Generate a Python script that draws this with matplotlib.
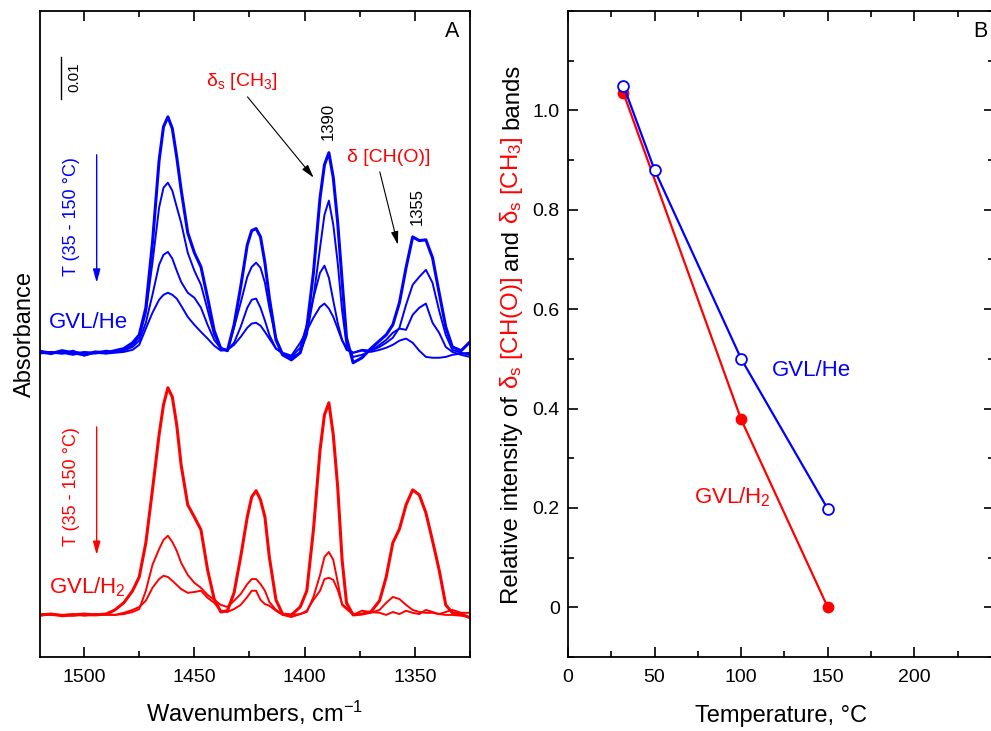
# FTIR spectra of GVL (A) and relative band intensity vs temperature (B)
import matplotlib
matplotlib.use('Agg')
import matplotlib.pyplot as plt
from matplotlib.ticker import MultipleLocator

plt.rcParams['font.family'] = ['Liberation Sans', 'DejaVu Sans']
plt.rcParams['mathtext.fontset'] = 'custom'
plt.rcParams['mathtext.rm'] = 'Liberation Sans'
plt.rcParams['mathtext.it'] = 'Liberation Sans:italic'
plt.rcParams['mathtext.default'] = 'regular'

# Wavenumber grid, cm-1
wn = [1520, 1515, 1510, 1505, 1500, 1495, 1490, 1486, 1482, 1478,
      1475, 1472, 1469, 1466, 1464, 1462, 1460, 1458, 1456, 1453,
      1450, 1447, 1444, 1441, 1438, 1435, 1432, 1429, 1426, 1424,
      1422, 1420, 1418, 1416, 1413, 1410, 1406, 1402, 1399, 1396,
      1393, 1391, 1389, 1387, 1385, 1383, 1381, 1378, 1374, 1370,
      1366, 1363, 1360, 1357, 1354, 1351, 1348, 1345, 1342, 1339,
      1336, 1333, 1329, 1325]

# Absorbance x 1e-3, GVL/He, temperature rising 35 -> 150 C
he_1 = [0.2, -0.2, 0.5, 0, -0.5, 0.2, 0, 0.5, 1.0, 2.4,
        4.3, 10.8, 26.4, 46.1, 54.2, 56.6, 53.8, 47.0, 39.1, 28.8,
        24.0, 20.6, 13.2, 5.3, 1.0, 0.5, 6.7, 15.8, 25.9, 29.3,
        29.8, 27.8, 21.6, 13.2, 3.1, -0.5, -1.7, 0, 6.0, 19.2,
        37.2, 45.1, 48.0, 42.0, 31.2, 17.3, 3.6, -2.4, -1.2, 1.0,
        2.9, 4.3, 6.7, 12.0, 20.4, 27.8, 26.9, 27.1, 22.8, 14.4,
        6.2, 1.4, 0.5, 2.6]
he_2 = [0, 0.2, -0.2, 0.2, 0, -0.2, 0.2, 0.2, 0.7, 1.7,
        3.8, 9.6, 21.6, 34.8, 39.6, 40.8, 38.9, 35.0, 31.2, 24.0,
        19.7, 16.3, 10.3, 4.3, 1.2, 0.5, 6.0, 12.0, 18.2, 20.6,
        21.6, 20.4, 16.8, 10.8, 3.6, -0.2, -1.2, 0, 4.3, 13.2,
        25.2, 33.1, 36.5, 30.7, 21.6, 10.1, 1.9, -1.0, -0.5, 0.5,
        1.4, 2.4, 3.6, 6.0, 11.5, 16.3, 18.2, 19.9, 16.8, 10.1,
        4.3, 0.7, 0, -0.5]
he_3 = [0.5, 0, -0.2, 0.5, -0.7, 0, 0.5, 0.2, 0.5, 1.4,
        2.9, 7.2, 13.9, 21.1, 23.5, 24.2, 22.6, 19.7, 17.0, 14.4,
        13.2, 10.8, 6.7, 3.1, 1.0, 0.7, 2.4, 6.2, 10.8, 12.7,
        13.0, 10.8, 7.7, 4.3, 1.0, -0.2, -1.0, 1.2, 6.7, 13.2,
        19.2, 20.9, 18.0, 12.5, 7.2, 3.1, 0.7, 0, 0.7, 0.5,
        1.9, 3.1, 4.8, 5.8, 5.5, 9.1, 10.8, 11.8, 7.2, 4.8,
        1.4, 0.2, -0.5, -1.0]
he_4 = [-0.2, 0.2, 0, -0.5, 0.2, 0, -0.2, 0, 0.2, 0.7,
        1.9, 5.8, 9.6, 12.7, 13.9, 14.4, 13.9, 13.0, 11.3, 8.6,
        6.7, 5.0, 3.4, 1.7, 0.5, 0.7, 1.9, 3.8, 6.0, 7.0,
        7.2, 6.5, 5.0, 3.4, 1.0, 0, -0.7, 2.4, 5.3, 8.4,
        11.0, 11.8, 10.6, 8.6, 5.8, 2.9, 1.2, 0, 0.5, 0.2,
        0.7, 1.2, 1.9, 2.9, 3.4, 2.4, 0.5, -1.0, -1.2, -1.2,
        -1.0, -0.5, -0.2, 0]

# Absorbance x 1e-3, GVL/H2, temperature rising 35 -> 150 C
h2_1 = [0, 0.2, -0.2, 0, 0.2, 0, 0.2, 1.2, 2.9, 5.8,
        9.1, 17.3, 30.0, 43.2, 50.4, 54.5, 52.3, 45.6, 36.0, 26.4,
        23.5, 20.4, 10.8, 3.8, 0.7, 1.0, 5.3, 13.9, 23.5, 28.3,
        29.8, 27.6, 23.5, 13.9, 3.6, 0.2, 0, 1.9, 5.8, 20.4,
        39.6, 48.0, 50.9, 43.2, 30.7, 13.2, 2.9, 0, 0.2, 0.7,
        3.4, 9.1, 17.3, 20.6, 26.4, 30.0, 28.8, 24.5, 17.8, 10.8,
        2.4, 0.5, 0.2, -0.7]
h2_2 = [0.2, 0, 0, -0.2, 0, 0.2, 0, 0, 0.2, 0.7,
        1.4, 5.8, 12.0, 15.8, 18.0, 19.0, 17.5, 15.4, 12.5, 9.6,
        7.7, 6.5, 4.8, 3.6, 2.4, 1.9, 3.4, 5.0, 7.4, 8.6,
        8.6, 7.4, 5.8, 3.1, 1.2, 0.2, 0, 0.2, 0.7, 4.3,
        9.6, 13.9, 15.1, 13.2, 7.9, 2.4, 1.4, 0.2, 0.2, 0.5,
        1.2, 2.9, 4.3, 3.8, 2.4, 1.2, 0.7, 0.5, 0.5, 0.2,
        0, 0, -0.2, -0.5]
h2_3 = [-0.2, 0.2, 0, 0.2, -0.2, 0, 0.2, 0, 0.5, 1.2,
        1.9, 3.4, 6.5, 8.6, 9.4, 9.1, 8.2, 7.2, 6.2, 5.3,
        5.5, 5.8, 4.1, 2.9, 1.0, 0.7, 1.4, 2.4, 4.3, 5.8,
        5.8, 3.6, 2.6, 2.2, 1.0, 0, -0.5, 0.2, 1.0, 3.6,
        5.8, 8.6, 8.9, 8.4, 6.0, 2.6, 1.7, 0, 1.0, 0.7,
        0.5, 0, 0.7, 0.2, 1.0, 0.5, 0.2, 1.2, 0.7, 0.2,
        0.7, 1.2, 0.5, 0.5]

# Panel B: relative intensity of the bands
temp_h2 = [32, 100, 150]
rel_h2 = [1.035, 0.378, 0.0]
temp_he = [32, 50, 100, 150]
rel_he = [1.05, 0.88, 0.50, 0.198]

BLUE = '#0000ff'
RED = '#ff0000'
he_offset = 73.0
h2_offset = 10.1

fig = plt.figure(figsize=(9.91, 7.31), dpi=100)
W, H = 991, 731
axA = fig.add_axes([40 / W, 74 / H, 430 / W, 646 / H])
axB = fig.add_axes([568 / W, 74 / H, 426 / W, 646 / H])

# ---- panel A ----
for y, lw in [(he_4, 1.4), (he_3, 1.4), (he_2, 1.4), (he_1, 2.2)]:
    axA.plot(wn, [v + he_offset for v in y], color=BLUE, lw=lw)
for y, lw in [(h2_3, 1.4), (h2_2, 1.4), (h2_1, 2.2)]:
    axA.plot(wn, [v + h2_offset for v in y], color=RED, lw=lw)

axA.set_xlim(1520, 1325)
axA.set_ylim(0, 155)
axA.xaxis.set_major_locator(MultipleLocator(50))
axA.xaxis.set_minor_locator(MultipleLocator(25))
axA.set_yticks([])
axA.tick_params(axis='x', which='both', direction='in', top=True, labelsize=14,
                pad=9, width=1.2)
axA.tick_params(axis='x', which='major', length=7)
axA.tick_params(axis='x', which='minor', length=4)
axA.set_xlabel('Wavenumbers, cm$^{-1}$', fontsize=17, va='baseline')
axA.xaxis.set_label_coords(0.5, -0.1006)
axA.set_ylabel('Absorbance', fontsize=17)
axA.yaxis.set_label_coords(-0.01, 0.5)

# scale bar 0.01 absorbance
axA.plot([1510.5, 1510.5], [134, 144], color='k', lw=1.0)
axA.text(1504.5, 139, '0.01', rotation=90, fontsize=11, ha='center', va='center')

arrow = dict(arrowstyle='-|>,head_length=0.8,head_width=0.22', color='k', lw=0.8,
             shrinkA=0, shrinkB=0)
axA.annotate('', xy=(1395.9, 115.0), xytext=(1425.9, 134.4), arrowprops=arrow)
axA.annotate('', xy=(1357.7, 98.9), xytext=(1365.9, 116.4), arrowprops=arrow)
axA.text(1428.6, 138, r'δ$_s$ [CH$_3$]', color=RED, fontsize=14, ha='center', va='center')
axA.text(1361.8, 119.8, 'δ [CH(O)]', color=RED, fontsize=14, ha='center', va='center')
axA.text(1389.1, 128.6, '1390', rotation=90, fontsize=12, ha='center', va='center')
axA.text(1349.1, 108.2, '1355', rotation=90, fontsize=12, ha='center', va='center')

for col, ytxt, y0, y1 in [(BLUE, 105.6, 120.5, 89.8), (RED, 40.8, 55.2, 24.5)]:
    axA.text(1505.5, ytxt, 'T (35 - 150 °C)', rotation=90, color=col, fontsize=13,
             ha='center', va='center')
    axA.annotate('', xy=(1494.3, y1), xytext=(1494.3, y0),
                 arrowprops=dict(arrowstyle='-|>,head_length=0.8,head_width=0.22',
                                 color=col, lw=1.0, shrinkA=0, shrinkB=0))
axA.text(1516, 80.2, 'GVL/He', color=BLUE, fontsize=16, ha='left', va='center')
axA.text(1516, 16.8, 'GVL/H$_2$', color=RED, fontsize=16, ha='left', va='center')
axA.text(0.958, 0.969, 'A', transform=axA.transAxes, fontsize=15.5, ha='center', va='center')

# ---- panel B ----
axB.plot(temp_h2, rel_h2, color=RED, lw=1.6, marker='o', ms=7.5, mfc=RED, mec=RED)
axB.plot(temp_he, rel_he, color=BLUE, lw=1.6, marker='o', ms=7.8, mfc='white',
         mec=BLUE, mew=1.3)
axB.set_xlim(0, 246)
axB.set_ylim(-0.1, 1.2)
axB.xaxis.set_major_locator(MultipleLocator(50))
axB.xaxis.set_minor_locator(MultipleLocator(25))
axB.set_yticks([0, 0.2, 0.4, 0.6, 0.8, 1.0])
axB.set_yticklabels(['0', '0.2', '0.4', '0.6', '0.8', '1.0'])
axB.yaxis.set_minor_locator(MultipleLocator(0.1))
axB.tick_params(which='both', direction='in', top=True, right=True, labelsize=14,
                width=1.2)
axB.tick_params(axis='x', which='both', pad=9)
axB.tick_params(axis='y', which='both', pad=6)
axB.tick_params(which='major', length=7)
axB.tick_params(which='minor', length=4)
axB.set_xlabel('Temperature, °C', fontsize=17, va='baseline')
axB.xaxis.set_label_coords(0.5, -0.1006)
axB.text(140.8, 0.477, 'GVL/He', color=BLUE, fontsize=16, ha='center', va='center')
axB.text(95, 0.221, 'GVL/H$_2$', color=RED, fontsize=16, ha='center', va='center')
axB.text(0.967, 0.969, 'B', transform=axB.transAxes, fontsize=15.5, ha='center', va='center')

for ax in (axA, axB):
    for sp in ax.spines.values():
        sp.set_linewidth(1.3)

# multi-coloured y label of panel B, stacked bottom to top
pieces = [('Relative intensity of', 'k'), (r'δ$_s$ [CH(O)]', RED), ('and', 'k'),
          (r'δ$_s$ [CH$_3$]', RED), ('bands', 'k')]
renderer = fig.canvas.get_renderer()
fs = 17.3
texts = []
for s, c in pieces:
    t = fig.text(0, 0, s, color=c, fontsize=fs, rotation=90, rotation_mode='anchor',
                 ha='left', va='baseline')
    texts.append(t)
gap = 0.28 * fs * 100 / 72
lengths = [t.get_window_extent(renderer).height for t in texts]
total = sum(lengths) + gap * (len(texts) - 1)
ypos = (731 - 334) - total / 2
for t, L in zip(texts, lengths):
    t.set_position((518 / W, ypos / H))
    ypos += L + gap

fig.savefig('out.png', dpi=100)
